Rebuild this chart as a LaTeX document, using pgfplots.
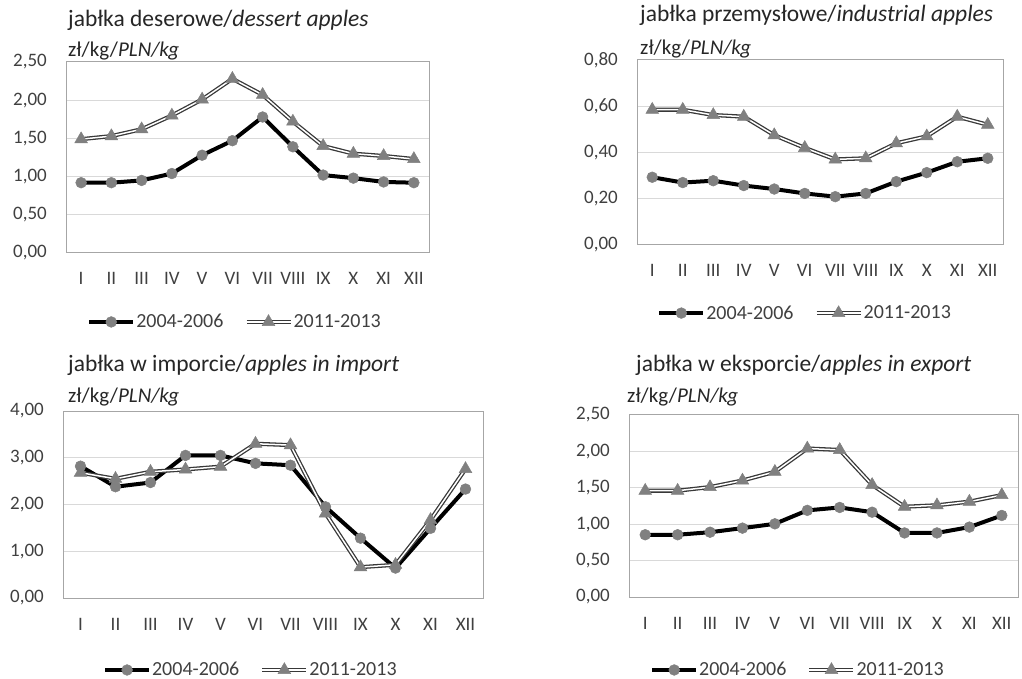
\documentclass[border=0pt]{standalone}
\usepackage{fontspec}
\setmainfont{Carlito}
\usepackage{pgfplots}
\pgfplotsset{compat=1.18}
\definecolor{markgray}{HTML}{808080}
\definecolor{axisgray}{HTML}{A6A6A6}
\definecolor{gridgray}{HTML}{D9D9D9}
\definecolor{ticktext}{HTML}{404040}
\definecolor{titletext}{HTML}{262626}
\newcommand{\tfont}{\fontsize{23.5bp}{26bp}\selectfont}
\newcommand{\ufont}{\fontsize{21bp}{24bp}\selectfont}
\pgfplotsset{
 myaxis/.style={
  scale only axis, anchor=south west,
  xmin=0.5, xmax=12.5, ymin=0,
  xtick={1,...,12}, xticklabels={I,II,III,IV,V,VI,VII,VIII,IX,X,XI,XII},
  major tick length=0pt,
  axis line style={draw=axisgray, line width=1bp},
  ymajorgrids, grid style={draw=gridgray, line width=1bp},
  tick label style={font=\fontsize{19bp}{22bp}\selectfont, text=ticktext},
  yticklabel style={anchor=east, inner sep=0pt, xshift=-19bp},
  xticklabel style={anchor=base, inner sep=0pt, yshift=-32bp},
  /pgf/number format/.cd, fixed, fixed zerofill, precision=2, use comma, assume math mode=true, /pgfplots/.cd,
  clip=false,
  legend columns=2,
  legend style={draw=none, fill=none, font=\fontsize{20bp}{24bp}\selectfont, text=ticktext, inner sep=0pt, anchor=west,
    nodes={inner sep=1bp},
    /tikz/every even column/.append style={column sep=20bp}},
  legend image code/.code={\draw[mark repeat=2,mark phase=2,##1] plot coordinates {(0bp,0bp)(22bp,0bp)(44bp,0bp)};},
 },
 s1/.style={black, line width=4bp, mark=*, mark size=5.4bp, mark options={draw=markgray, fill=markgray, line width=0.5bp}},
 s2/.style={draw=black!78, double=white, double distance=1.5bp, line width=1.3bp, mark=triangle*, mark size=7.3bp, mark options={draw=markgray, fill=markgray, line width=0.5bp, double=none}},
}
\begin{document}
\begin{tikzpicture}
\useasboundingbox (0,0) rectangle (1022bp,679bp);
% Panel 1
\begin{axis}[myaxis, at={(66bp,426bp)}, width=363bp, height=191bp, ymax=2.5, ytick={0,0.5,...,2.5},
  legend style={at={(0.058,-0.361)}}]
\addplot[s1] coordinates {(1,0.92)(2,0.92)(3,0.95)(4,1.04)(5,1.28)(6,1.47)(7,1.78)(8,1.39)(9,1.02)(10,0.98)(11,0.93)(12,0.92)};
\addplot[s2] coordinates {(1,1.49)(2,1.53)(3,1.62)(4,1.80)(5,2.01)(6,2.28)(7,2.07)(8,1.72)(9,1.40)(10,1.30)(11,1.27)(12,1.23)};
\legend{2004-2006,2011-2013}
\end{axis}
% Panel 2
\begin{axis}[myaxis, at={(637bp,434bp)}, width=366bp, height=185bp, ymax=0.8, ytick={0,0.2,...,0.8},
  legend style={at={(0.055,-0.368)}}]
\addplot[s1] coordinates {(1,0.293)(2,0.27)(3,0.278)(4,0.257)(5,0.242)(6,0.223)(7,0.209)(8,0.223)(9,0.274)(10,0.313)(11,0.36)(12,0.375)};
\addplot[s2] coordinates {(1,0.585)(2,0.585)(3,0.562)(4,0.555)(5,0.475)(6,0.42)(7,0.37)(8,0.375)(9,0.44)(10,0.47)(11,0.555)(12,0.52)};
\legend{2004-2006,2011-2013}
\end{axis}
% Panel 3
\begin{axis}[myaxis, at={(63bp,81bp)}, width=420bp, height=187bp, ymax=4, ytick={0,1,...,4},
  legend style={at={(0.095,-0.385)}}]
\addplot[s1] coordinates {(1,2.82)(2,2.38)(3,2.47)(4,3.05)(5,3.05)(6,2.88)(7,2.84)(8,1.95)(9,1.28)(10,0.64)(11,1.49)(12,2.33)};
\addplot[s2] coordinates {(1,2.68)(2,2.55)(3,2.70)(4,2.75)(5,2.81)(6,3.30)(7,3.27)(8,1.81)(9,0.66)(10,0.71)(11,1.67)(12,2.76)};
\legend{2004-2006,2011-2013}
\end{axis}
% Panel 4
\begin{axis}[myaxis, at={(629bp,82bp)}, width=389bp, height=182bp, ymax=2.5, ytick={0,0.5,...,2.5},
  legend style={at={(0.054,-0.401)}}]
\addplot[s1] coordinates {(1,0.855)(2,0.855)(3,0.89)(4,0.946)(5,1.005)(6,1.19)(7,1.23)(8,1.165)(9,0.88)(10,0.88)(11,0.96)(12,1.12)};
\addplot[s2] coordinates {(1,1.46)(2,1.46)(3,1.51)(4,1.60)(5,1.72)(6,2.04)(7,2.02)(8,1.54)(9,1.24)(10,1.26)(11,1.31)(12,1.40)};
\legend{2004-2006,2011-2013}
\end{axis}
% Titles
\node[anchor=base west, inner sep=0pt, font=\tfont, text=titletext] at (68bp,652bp) {jabłka deserowe/\textit{dessert apples}};
\node[anchor=base west, inner sep=0pt, font=\ufont, text=titletext] at (68bp,622bp) {zł/kg/\textit{PLN/kg}};
\node[anchor=base west, inner sep=0pt, font=\tfont, text=titletext] at (640bp,657bp) {jabłka przemysłowe/\textit{industrial apples}};
\node[anchor=base west, inner sep=0pt, font=\ufont, text=titletext] at (640bp,624bp) {zł/kg/\textit{PLN/kg}};
\node[anchor=base west, inner sep=0pt, font=\tfont, text=titletext] at (68bp,307bp) {jabłka w imporcie/\textit{apples in import}};
\node[anchor=base west, inner sep=0pt, font=\ufont, text=titletext] at (68bp,276bp) {zł/kg/\textit{PLN/kg}};
\node[anchor=base west, inner sep=0pt, font=\tfont, text=titletext] at (636bp,307bp) {jabłka w eksporcie/\textit{apples in export}};
\node[anchor=base west, inner sep=0pt, font=\ufont, text=titletext] at (627bp,276bp) {zł/kg/\textit{PLN/kg}};
\end{tikzpicture}
\end{document}
